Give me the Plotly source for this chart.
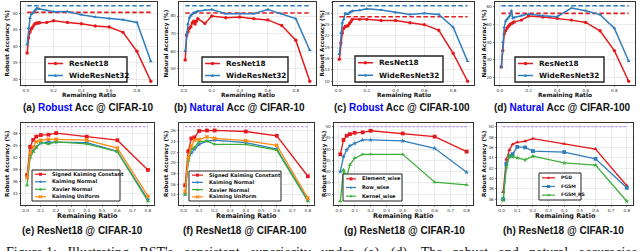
import math
import plotly.graph_objects as go

W, H = 640, 251

# ---------------- data ----------------
X_TOP = [0.01, 0.02, 0.03, 0.04, 0.05, 0.06, 0.07, 0.08, 0.09, 0.1, 0.15, 0.2, 0.3, 0.4, 0.5, 0.6, 0.7, 0.8, 0.9]
X_BOT = [0.01, 0.03, 0.05, 0.07, 0.1, 0.15, 0.2, 0.4, 0.6, 0.8]

# (a) Robust Acc @ CIFAR-10
a_resnet18 = [38.0, 42.5, 44.3, 45.3, 45.8, 46.5, 46.9, 47.0, 47.0, 47.1, 47.2, 47.7, 47.2, 46.8, 46.1, 45.8, 44.2, 38.5, 29.5]
a_wrn32 = [40.5, 45.5, 48.5, 49.7, 50.0, 50.5, 51.0, 51.5, 51.3, 51.2, 50.8, 50.4, 50.5, 49.5, 48.8, 48.3, 48.0, 47.2, 35.5]
a_dense = [50.2, 52.2]

# (b) Natural Acc @ CIFAR-10
b_resnet18 = [55.0, 69.0, 71.0, 73.0, 74.0, 76.0, 77.0, 75.5, 77.0, 78.5, 75.8, 80.0, 79.0, 79.4, 78.5, 77.8, 74.6, 66.3, 43.0]
b_wrn32 = [60.0, 70.0, 75.5, 79.0, 80.4, 81.0, 81.7, 82.0, 82.3, 82.7, 83.3, 83.7, 81.3, 81.5, 81.3, 83.7, 81.3, 78.5, 60.6]
b_dense = [81.7, 85.8]

# (c) Robust Acc @ CIFAR-100
c_resnet18 = [15.8, 20.1, 22.8, 24.0, 24.5, 24.6, 24.7, 25.3, 25.8, 26.4, 26.4, 26.4, 26.1, 26.1, 25.5, 25.0, 23.5, 17.4, 10.0]
c_wrn32 = [17.2, 22.8, 25.5, 26.4, 28.0, 27.8, 27.8, 28.2, 28.4, 28.6, 28.8, 29.2, 28.9, 28.2, 27.7, 28.0, 27.7, 24.3, 15.3]
c_dense = [27.1, 30.0]

# (d) Natural Acc @ CIFAR-100
d_resnet18 = [26.0, 35.3, 44.7, 46.5, 48.0, 49.0, 50.0, 50.5, 51.0, 51.5, 52.5, 54.8, 54.3, 53.5, 52.5, 51.2, 46.5, 35.3, 18.0]
d_wrn32 = [26.0, 40.0, 48.4, 52.0, 53.0, 54.0, 55.0, 57.8, 53.5, 54.0, 55.0, 55.9, 55.0, 54.4, 59.3, 57.8, 55.6, 48.0, 29.4]
d_dense = [56.3, 60.6]

# (e) ResNet18 @ CIFAR-10, initialisations
e_signed_kc = [37.6, 44.7, 46.5, 47.3, 47.7, 47.8, 48.2, 47.3, 46.4, 38.9]
e_kaiming_n = [37.0, 42.5, 43.8, 44.7, 45.7, 45.9, 45.9, 45.8, 43.6, 31.4]
e_xavier_n = [35.0, 42.0, 43.5, 44.5, 45.9, 45.4, 46.0, 45.5, 43.5, 31.0]
e_kaiming_u = [37.0, 43.2, 44.7, 46.0, 46.4, 46.6, 46.6, 46.4, 44.4, 32.3]
e_dense = 49.8

# (f) ResNet18 @ CIFAR-100, initialisations
f_signed_kc = [15.8, 22.2, 24.6, 24.8, 26.0, 26.1, 26.1, 25.9, 25.1, 17.5]
f_kaiming_n = [14.1, 20.7, 21.9, 22.6, 23.5, 24.1, 24.3, 23.8, 22.6, 13.0]
f_xavier_n = [14.0, 20.4, 22.6, 22.9, 24.0, 24.1, 23.5, 23.5, 22.4, 12.8]
f_kaiming_u = [14.6, 21.0, 23.2, 24.3, 24.4, 24.9, 24.6, 24.2, 23.3, 13.4]
f_dense = 26.8

# (g) ResNet18 @ CIFAR-10, granularity
g_element = [37.7, 44.1, 46.0, 46.7, 47.3, 47.5, 48.2, 47.0, 45.6, 38.9]
g_row = [30.0, 36.7, 39.7, 41.5, 42.6, 44.1, 44.1, 43.7, 40.4, 29.7]
g_kernel = [16.8, 30.8, 27.8, 33.0, 36.0, 37.7, 37.7, 37.7, 25.3, 24.1]
g_dense = 50.0

# (h) ResNet18 @ CIFAR-10, attacks
h_pgd = [37.4, 43.7, 45.5, 46.6, 47.0, 47.2, 47.7, 46.7, 45.7, 38.6]
h_fgsm = [36.0, 42.8, 44.3, 44.7, 46.1, 46.0, 45.3, 45.1, 43.8, 38.2]
h_fgsm_rs = [35.8, 42.1, 44.4, 44.2, 44.0, 43.6, 44.3, 43.0, 42.6, 35.6]
h_dense = 50.0

# ---------------- styling ----------------
RED = "#e41a1c"
BLUE = "#2f7dbd"
GREEN = "#3cae3a"
ORANGE = "#ff8a10"
PURPLE = "#a070e8"
FRAME = "#333333"
TICKF = dict(family="DejaVu Sans", size=4.2, color="#333")


def PX(x):
    return x / W


def PY(y):
    return 1 - y / H


panels = [
    dict(box=(21, 2, 157, 85), xs=X_TOP, top=True,
         series=[("ResNet18", a_resnet18, RED, "circle"), ("WideResNet32", a_wrn32, BLUE, "triangle-up")],
         dense=[(a_dense[0], RED), (a_dense[1], BLUE)], tick0=30, dtick=5,
         ytitle="Robust Accuracy (%)", ytx=7,
         legend=(45, 57, 127, 82), lfont=7.3, lline=15,
         caption="(a) <span style='color:#0000ff'>Robust</span> Acc @ CIFAR-10", cx=88),
    dict(box=(179, 2, 316, 85), xs=X_TOP, top=True,
         series=[("ResNet18", b_resnet18, RED, "circle"), ("WideResNet32", b_wrn32, BLUE, "triangle-up")],
         dense=[(b_dense[0], RED), (b_dense[1], BLUE)], tick0=50, dtick=10,
         ytitle="Natural Accuracy (%)", ytx=166,
         legend=(202, 57, 288, 82), lfont=7.3, lline=15,
         caption="(b) <span style='color:#0000ff'>Natural</span> Acc @ CIFAR-10", cx=239),
    dict(box=(333, 2, 474, 85), xs=X_TOP, top=True,
         series=[("ResNet18", c_resnet18, RED, "circle"), ("WideResNet32", c_wrn32, BLUE, "triangle-up")],
         dense=[(c_dense[0], RED), (c_dense[1], BLUE)], tick0=10, dtick=3,
         ytitle="Robust Accuracy (%)", ytx=322,
         legend=(355, 56, 443, 82), lfont=7.3, lline=15,
         caption="(c) <span style='color:#0000ff'>Robust</span> Acc @ CIFAR-100", cx=402),
    dict(box=(495, 2, 635, 85), xs=X_TOP, top=True,
         series=[("ResNet18", d_resnet18, RED, "circle"), ("WideResNet32", d_wrn32, BLUE, "triangle-up")],
         dense=[(d_dense[0], RED), (d_dense[1], BLUE)], tick0=20, dtick=10,
         ytitle="Natural Accuracy (%)", ytx=484,
         legend=(515, 57, 604, 82), lfont=7.3, lline=15,
         caption="(d) <span style='color:#0000ff'>Natural</span> Acc @ CIFAR-100", cx=562),
    dict(box=(21, 123, 154, 205), xs=X_BOT, top=False,
         series=[("Signed Kaiming Constant", e_signed_kc, RED, "square"), ("Kaiming Normal", e_kaiming_n, BLUE, "star"),
                 ("Xavier Normal", e_xavier_n, GREEN, "triangle-up"), ("Kaiming Uniform", e_kaiming_u, ORANGE, "x")],
         dense=[(e_dense, PURPLE)], tick0=30, dtick=3,
         ytitle="Robust Accuracy (%)", ytx=7,
         legend=(32, 170, 120, 201), lfont=5.0, lline=11,
         caption="(e) ResNet18 @ CIFAR-10", cx=82),
    dict(box=(179, 123, 314, 205), xs=X_BOT, top=False,
         series=[("Signed Kaiming Constant", f_signed_kc, RED, "square"), ("Kaiming Normal", f_kaiming_n, BLUE, "star"),
                 ("Xavier Normal", f_xavier_n, GREEN, "triangle-up"), ("Kaiming Uniform", f_kaiming_u, ORANGE, "x")],
         dense=[(f_dense, PURPLE)], tick0=12, dtick=2,
         ytitle="Robust Accuracy (%)", ytx=166,
         legend=(189, 171, 281, 201), lfont=5.0, lline=11,
         caption="(f) ResNet18 @ CIFAR-100", cx=245),
    dict(box=(334, 123, 473, 205), xs=X_BOT, top=False,
         series=[("Element_wise", g_element, RED, "square"), ("Row_wise", g_row, BLUE, "star"),
                 ("Kernel_wise", g_kernel, GREEN, "triangle-up")],
         dense=[(g_dense, PURPLE)], tick0=20, dtick=5,
         ytitle="Robust Accuracy (%)", ytx=324,
         legend=(343, 174, 402, 201), lfont=5.0, lline=10,
         caption="(g) ResNet18 @ CIFAR-10", cx=404),
    dict(box=(497, 123, 633, 205), xs=X_BOT, top=False,
         series=[("PGD", h_pgd, RED, "triangle-up"), ("FGSM", h_fgsm, BLUE, "square"),
                 ("FGSM_RS", h_fgsm_rs, GREEN, "star")],
         dense=[(h_dense, PURPLE)], tick0=36, dtick=2,
         ytitle="Robust Accuracy (%)", ytx=484,
         legend=(539, 173, 581, 200), lfont=4.6, lline=13,
         caption="(h) ResNet18 @ CIFAR-10", cx=563),
]

fig = go.Figure()
layout = dict(
    width=W, height=H, margin=dict(l=0, r=0, t=0, b=0),
    paper_bgcolor="white", plot_bgcolor="white", showlegend=False,
)
shapes = []
annotations = []


def marker_shape(sym, cx, cy, r, color):
    """legend sample marker as a paper-coordinate shape (pixel input)."""
    if sym == "circle":
        return dict(type="circle", xref="paper", yref="paper",
                    x0=PX(cx - r), x1=PX(cx + r), y0=PY(cy + r), y1=PY(cy - r),
                    fillcolor=color, line=dict(width=0))
    if sym == "square":
        pts = [(cx - r, cy - r), (cx + r, cy - r), (cx + r, cy + r), (cx - r, cy + r)]
    elif sym == "triangle-up":
        pts = [(cx, cy - r * 1.1), (cx + r, cy + r * 0.8), (cx - r, cy + r * 0.8)]
    elif sym == "star":
        pts = []
        for k in range(10):
            ang = -math.pi / 2 + k * math.pi / 5
            rr = r * 1.2 if k % 2 == 0 else r * 0.5
            pts.append((cx + rr * math.cos(ang), cy + rr * math.sin(ang)))
    else:  # x
        d = r
        path = (f"M{PX(cx-d)},{PY(cy-d)} L{PX(cx+d)},{PY(cy+d)} "
                f"M{PX(cx-d)},{PY(cy+d)} L{PX(cx+d)},{PY(cy-d)}")
        return dict(type="path", xref="paper", yref="paper", path=path,
                    line=dict(color=color, width=1.2))
    path = "M" + " L".join(f"{PX(x)},{PY(y)}" for x, y in pts) + " Z"
    return dict(type="path", xref="paper", yref="paper", path=path,
                fillcolor=color, line=dict(width=0))


for i, p in enumerate(panels, start=1):
    sfx = "" if i == 1 else str(i)
    x0, y0, x1, y1 = p["box"]
    xs = p["xs"]
    allv = [v for s in p["series"] for v in s[1]] + [d[0] for d in p["dense"]]
    lo, hi = min(allv), max(allv)
    pad = 0.05 * (hi - lo)
    xpad = 0.05 * (max(xs) - min(xs))
    msize = 3.4 if p["top"] else 3.8
    # dense baselines
    for val, col in p["dense"]:
        fig.add_trace(go.Scatter(
            x=[xs[0], xs[-1]], y=[val, val], mode="lines",
            line=dict(color=col, width=1.6 if p["top"] else 0.9,
                      dash="4.5px,2.5px" if p["top"] else "2.5px,1.5px"),
            xaxis="x" + sfx, yaxis="y" + sfx, hoverinfo="skip"))
    for name, vals, col, sym in p["series"]:
        fig.add_trace(go.Scatter(
            x=xs, y=vals, mode="lines+markers", name=name,
            line=dict(color=col, width=1.5 if p["top"] else 1.3),
            marker=dict(symbol=sym, size=msize, color=col, line=dict(width=0, color=col)),
            xaxis="x" + sfx, yaxis="y" + sfx))
    ax = dict(
        domain=[PX(x0), PX(x1)], range=[min(xs) - xpad, max(xs) + xpad],
        anchor="y" + sfx, showline=True, mirror=True, linecolor=FRAME, linewidth=1.2,
        showgrid=True, gridcolor="#e3e3e3", gridwidth=0.7, zeroline=False,
        ticks="outside", ticklen=1.2, tickwidth=0.6, tickcolor=FRAME,
        tickfont=TICKF, tick0=0, dtick=0.2 if p["top"] else 0.1,
        tickformat=".1f",
    )
    ay = dict(
        domain=[PY(y1), PY(y0)], range=[lo - pad, hi + pad],
        anchor="x" + sfx, showline=True, mirror=True, linecolor=FRAME, linewidth=1.2,
        showgrid=True, gridcolor="#e3e3e3", gridwidth=0.7, zeroline=False,
        ticks="outside", ticklen=1.2, tickwidth=0.6, tickcolor=FRAME,
        tickfont=TICKF, tick0=p["tick0"], dtick=p["dtick"],
    )
    layout["xaxis" + sfx] = ax
    layout["yaxis" + sfx] = ay

    # axis titles
    xt_y = 95.5 if p["top"] else 216
    annotations.append(dict(
        text="<b>Remaining Ratio</b>", xref="paper", yref="paper",
        x=PX((x0 + x1) / 2), y=PY(xt_y), showarrow=False, xanchor="center", yanchor="middle",
        font=dict(family="DejaVu Sans", size=5.8 if p["top"] else 6.5, color="#111")))
    annotations.append(dict(
        text="<b>" + p["ytitle"] + "</b>", xref="paper", yref="paper", textangle=-90,
        x=PX(p["ytx"]), y=PY((y0 + y1) / 2), showarrow=False, xanchor="center", yanchor="middle",
        font=dict(family="DejaVu Sans", size=5.7, color="#111")))
    # caption
    annotations.append(dict(
        text="<b>" + p["caption"] + "</b>", xref="paper", yref="paper",
        x=PX(p["cx"]), y=PY(107.5 if p["top"] else 230.5), showarrow=False,
        xanchor="center", yanchor="middle",
        font=dict(family="Liberation Sans", size=10, color="#111")))

    # legend (manual, to match compact matplotlib legend)
    lx0, ly0, lx1, ly1 = p["legend"]
    shapes.append(dict(type="rect", xref="paper", yref="paper",
                       x0=PX(lx0), x1=PX(lx1), y0=PY(ly1), y1=PY(ly0),
                       fillcolor="rgba(255,255,255,0.9)",
                       line=dict(color="#222", width=1.4 if p["top"] else 1.0)))
    n = len(p["series"])
    rowh = (ly1 - ly0 - 1.0) / n
    for k, (name, vals, col, sym) in enumerate(p["series"]):
        cy = ly0 + 0.5 + (k + 0.5) * rowh
        sx0 = lx0 + 3
        sx1 = sx0 + p["lline"]
        shapes.append(dict(type="line", xref="paper", yref="paper",
                           x0=PX(sx0), x1=PX(sx1), y0=PY(cy), y1=PY(cy),
                           line=dict(color=col, width=1.5 if p["top"] else 1.2)))
        shapes.append(marker_shape(sym, (sx0 + sx1) / 2, cy, 1.7 if p["top"] else 1.5, col))
        annotations.append(dict(
            text="<b>" + name + "</b>", xref="paper", yref="paper",
            x=PX(sx1 + 4), y=PY(cy), showarrow=False, xanchor="left", yanchor="middle",
            font=dict(family="DejaVu Sans", size=p["lfont"], color="#111")))

# partial figure caption at bottom (cut by the image edge, as in the reference)
caption_words = ["Figure 1:", "Illustrating", "RST's", "consistent", "superiority", "under",
                 "(a) - (d).", "The", "robust", "and", "natural", "accuracies"]
annotations.append(dict(
    text="   ".join(caption_words),
    xref="paper", yref="paper", x=PX(4), y=PY(242.5), showarrow=False,
    xanchor="left", yanchor="top",
    font=dict(family="Liberation Serif", size=14, color="#111")))

layout["shapes"] = shapes
layout["annotations"] = annotations
fig.update_layout(**layout)
fig.write_html(
    "out.html",
    config={"displayModeBar": False, "staticPlot": True},
    post_script="document.body.style.margin='0';document.body.style.overflow='hidden';",
)
